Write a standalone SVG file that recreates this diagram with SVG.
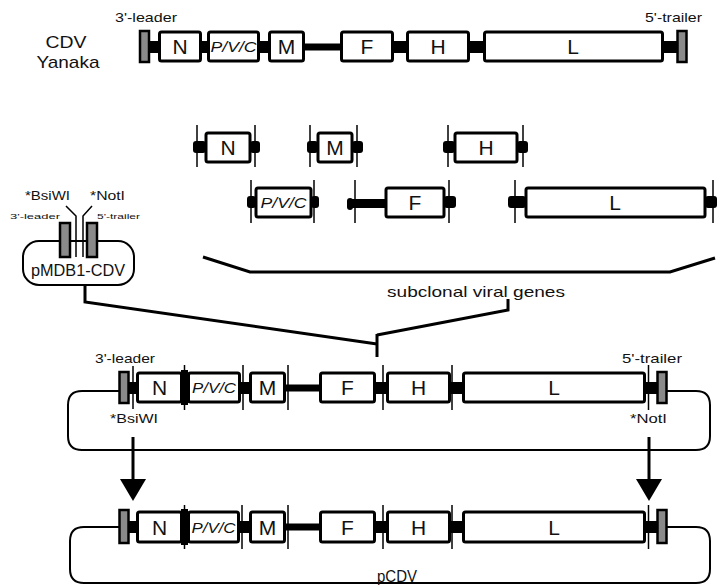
<svg xmlns="http://www.w3.org/2000/svg" width="717" height="587" viewBox="0 0 717 587">
<defs>
<style>
.box{fill:#fff;stroke:#000;stroke-width:3}
.gray{fill:#8a8a8a;stroke:#000;stroke-width:2.5}
.bar{fill:#000}
.thin{stroke:#000;stroke-width:1.5;fill:none}
.line{fill:none;stroke:#000;stroke-width:2}
.con{fill:none;stroke:#000;stroke-width:3}
text{font-family:"Liberation Sans",Arial,sans-serif;fill:#111}
.g{font-size:21px;text-anchor:middle}
.pvc{font-size:14px;font-style:italic;text-anchor:middle}
.s{font-size:13px}
.xs{font-size:8px}
</style>
</defs>
<rect width="717" height="587" fill="#fff"/>

<!-- Top: CDV Yanaka genome -->
<g id="cdv-label">
<text x="66" y="48" font-size="17" text-anchor="middle" textLength="41" lengthAdjust="spacingAndGlyphs">CDV</text>
<text x="68" y="68" font-size="17" text-anchor="middle" textLength="63" lengthAdjust="spacingAndGlyphs">Yanaka</text>
</g>
<g id="top-genome">
<text class="s" x="115" y="22" textLength="62" lengthAdjust="spacingAndGlyphs">3'-leader</text>
<text class="s" x="645" y="22" textLength="57" lengthAdjust="spacingAndGlyphs">5'-trailer</text>
<rect class="gray" x="140" y="31" width="9" height="31"/>
<rect class="bar" x="149" y="41" width="10" height="12"/>
<rect class="box" x="159.5" y="32" width="41" height="29" rx="2"/>
<text class="g" x="180" y="54">N</text>
<rect class="bar" x="200" y="41" width="9" height="12"/>
<rect class="box" x="208.5" y="32" width="50" height="29" rx="2"/>
<text class="pvc" x="233.5" y="52" textLength="46" lengthAdjust="spacingAndGlyphs">P/V/C</text>
<rect class="bar" x="258" y="41" width="12" height="12"/>
<rect class="box" x="269.5" y="32" width="34" height="29" rx="2"/>
<text class="g" x="286.5" y="54">M</text>
<rect class="bar" x="303" y="43.5" width="38" height="7"/>
<rect class="box" x="341.5" y="32" width="51" height="29" rx="2"/>
<text class="g" x="367" y="54">F</text>
<rect class="bar" x="392" y="41" width="16" height="12"/>
<rect class="box" x="407.5" y="32" width="61" height="29" rx="2"/>
<text class="g" x="438" y="54">H</text>
<rect class="bar" x="468" y="41" width="17" height="12"/>
<rect class="box" x="484.5" y="32" width="178" height="29" rx="2"/>
<text class="g" x="573" y="54">L</text>
<rect class="bar" x="662" y="41" width="16" height="12"/>
<rect class="gray" x="677.5" y="31" width="9" height="31"/>
</g>

<!-- Subclones -->
<g id="sub-N">
<rect class="bar" x="193" y="141" width="13" height="12" rx="3"/>
<rect class="bar" x="250" y="141" width="10" height="12" rx="3"/>
<line class="thin" x1="197" y1="125" x2="197" y2="167"/>
<line class="thin" x1="255" y1="125" x2="255" y2="167"/>
<rect class="box" x="206" y="133" width="44" height="29" rx="2"/>
<text class="g" x="228" y="155">N</text>
</g>
<g id="sub-M">
<rect class="bar" x="307" y="141" width="11" height="12" rx="3"/>
<rect class="bar" x="352" y="141" width="11" height="12" rx="3"/>
<line class="thin" x1="310" y1="125" x2="310" y2="167"/>
<line class="thin" x1="357" y1="125" x2="357" y2="167"/>
<rect class="box" x="318" y="133" width="34" height="29" rx="2"/>
<text class="g" x="335" y="155">M</text>
</g>
<g id="sub-H">
<rect class="bar" x="443" y="141" width="12" height="12" rx="3"/>
<rect class="bar" x="517" y="141" width="11" height="12" rx="3"/>
<line class="thin" x1="448" y1="125" x2="448" y2="167"/>
<line class="thin" x1="523" y1="125" x2="523" y2="167"/>
<rect class="box" x="455" y="133" width="62" height="29" rx="2"/>
<text class="g" x="486" y="155">H</text>
</g>
<g id="sub-PVC">
<rect class="bar" x="247" y="196" width="9" height="12" rx="3"/>
<rect class="bar" x="311" y="196" width="8" height="12" rx="3"/>
<line class="thin" x1="251" y1="180" x2="251" y2="223"/>
<line class="thin" x1="314" y1="180" x2="314" y2="223"/>
<rect class="box" x="256" y="188" width="55" height="29" rx="2"/>
<text class="pvc" x="283.5" y="208" textLength="46" lengthAdjust="spacingAndGlyphs">P/V/C</text>
</g>
<g id="sub-F">
<rect class="bar" x="347" y="198" width="6" height="12" rx="3"/>
<rect class="bar" x="350" y="199" width="37" height="9"/>
<rect class="bar" x="444" y="196" width="12" height="12" rx="3"/>
<line class="thin" x1="355" y1="180" x2="355" y2="223"/>
<line class="thin" x1="449" y1="180" x2="449" y2="223"/>
<rect class="box" x="386" y="188" width="58" height="29" rx="2"/>
<text class="g" x="415" y="210">F</text>
</g>
<g id="sub-L">
<rect class="bar" x="508" y="196" width="18" height="12" rx="3"/>
<rect class="bar" x="705" y="196" width="12" height="12" rx="3"/>
<line class="thin" x1="515" y1="180" x2="515" y2="223"/>
<line class="thin" x1="713" y1="180" x2="713" y2="223"/>
<rect class="box" x="526" y="188" width="179" height="29" rx="2"/>
<text class="g" x="615" y="210">L</text>
</g>
<g id="subclonal-label">
<text x="387" y="297" font-size="15" textLength="178" lengthAdjust="spacingAndGlyphs">subclonal viral genes</text>
</g>

<!-- pMDB1-CDV -->
<g id="pMDB1">
<text class="s" x="25" y="200" textLength="45" lengthAdjust="spacingAndGlyphs">*BsiWI</text>
<text class="s" x="90" y="200" textLength="35" lengthAdjust="spacingAndGlyphs">*NotI</text>
<text class="xs" x="10" y="219" textLength="50" lengthAdjust="spacingAndGlyphs">3'-leader</text>
<text class="xs" x="97" y="219" textLength="43" lengthAdjust="spacingAndGlyphs">5'-trailer</text>
<rect class="line" x="23" y="241" width="111" height="44" rx="16"/>
<polyline class="thin" points="66,206 76,216 76,257"/>
<polyline class="thin" points="92,206 83,216 83,257"/>
<rect class="gray" x="60" y="223" width="10" height="34"/>
<rect class="gray" x="87" y="223" width="10" height="34"/>
<text x="78" y="276" font-size="16" text-anchor="middle" textLength="94" lengthAdjust="spacingAndGlyphs">pMDB1-CDV</text>
</g>

<!-- Intermediate construct -->
<g id="intermediate">
<path class="line" d="M119,391 H82 Q68,391 68,405 V436 Q68,450 82,450 H696 Q710,450 710,436 V405 Q710,391 696,391 H667"/>
<text class="s" x="95" y="363" textLength="60" lengthAdjust="spacingAndGlyphs">3'-leader</text>
<text class="s" x="622" y="363" textLength="60" lengthAdjust="spacingAndGlyphs">5'-trailer</text>
<text class="s" x="110" y="423" textLength="48" lengthAdjust="spacingAndGlyphs">*BsiWI</text>
<text class="s" x="630" y="423" textLength="37" lengthAdjust="spacingAndGlyphs">*NotI</text>
<rect class="gray" x="119.5" y="372" width="9" height="31"/>
<rect class="bar" x="128" y="382" width="10" height="12"/>
<line class="thin" x1="133" y1="366" x2="133" y2="409"/>
<rect class="box" x="137.5" y="373" width="44" height="29" rx="2"/>
<text class="g" x="159.5" y="395">N</text>
<rect class="bar" x="181" y="370" width="7" height="35"/>
<line class="thin" x1="184.5" y1="365" x2="184.5" y2="410"/>
<rect class="box" x="188.5" y="373" width="51" height="29" rx="2"/>
<text class="pvc" x="214" y="393" textLength="44" lengthAdjust="spacingAndGlyphs">P/V/C</text>
<rect class="bar" x="239" y="382" width="12" height="12"/>
<line class="thin" x1="243" y1="365" x2="243" y2="410"/>
<rect class="box" x="250.5" y="373" width="34" height="29" rx="2"/>
<text class="g" x="267.5" y="395">M</text>
<rect class="bar" x="284" y="384.5" width="37" height="7"/>
<line class="thin" x1="288" y1="365" x2="288" y2="410"/>
<rect class="box" x="320.5" y="373" width="54" height="29" rx="2"/>
<text class="g" x="347.5" y="395">F</text>
<rect class="bar" x="374" y="382" width="14" height="12"/>
<line class="thin" x1="383" y1="365" x2="383" y2="410"/>
<rect class="box" x="387.5" y="373" width="62" height="29" rx="2"/>
<text class="g" x="418.5" y="395">H</text>
<rect class="bar" x="449" y="382" width="15" height="12"/>
<line class="thin" x1="452" y1="365" x2="452" y2="410"/>
<rect class="box" x="463.5" y="373" width="181" height="29" rx="2"/>
<text class="g" x="554" y="395">L</text>
<rect class="bar" x="644" y="382" width="14" height="12"/>
<line class="thin" x1="648.5" y1="365" x2="648.5" y2="410"/>
<rect class="gray" x="657.5" y="372" width="9" height="31"/>
</g>

<!-- Final pCDV -->
<g id="pCDV">
<path class="line" d="M119,527 H84 Q70,527 70,541 V569 Q70,583 84,583 H696 Q710,583 710,569 V541 Q710,527 696,527 H667"/>
<rect class="gray" x="119.5" y="510" width="9" height="33"/>
<rect class="bar" x="128" y="521" width="10" height="12"/>
<rect class="box" x="137.5" y="512" width="44" height="30" rx="2"/>
<text class="g" x="159.5" y="535">N</text>
<rect class="bar" x="181" y="509" width="7" height="36"/>
<line class="thin" x1="184.5" y1="505" x2="184.5" y2="549"/>
<rect class="box" x="188.5" y="512" width="50" height="30" rx="2"/>
<text class="pvc" x="213.5" y="533" textLength="44" lengthAdjust="spacingAndGlyphs">P/V/C</text>
<rect class="bar" x="238" y="521" width="13" height="12"/>
<line class="thin" x1="242" y1="505" x2="242" y2="549"/>
<rect class="box" x="250.5" y="512" width="34" height="30" rx="2"/>
<text class="g" x="267.5" y="535">M</text>
<rect class="bar" x="284" y="523.5" width="37" height="7"/>
<line class="thin" x1="288" y1="505" x2="288" y2="549"/>
<rect class="box" x="320.5" y="512" width="54" height="30" rx="2"/>
<text class="g" x="347.5" y="535">F</text>
<rect class="bar" x="374" y="521" width="14" height="12"/>
<line class="thin" x1="383" y1="505" x2="383" y2="549"/>
<rect class="box" x="387.5" y="512" width="62" height="30" rx="2"/>
<text class="g" x="418.5" y="535">H</text>
<rect class="bar" x="449" y="521" width="15" height="12"/>
<line class="thin" x1="452" y1="505" x2="452" y2="549"/>
<rect class="box" x="463.5" y="512" width="181" height="30" rx="2"/>
<text class="g" x="554" y="535">L</text>
<rect class="bar" x="644" y="521" width="14" height="12"/>
<line class="thin" x1="648.5" y1="505" x2="648.5" y2="549"/>
<rect class="gray" x="657.5" y="510" width="9" height="33"/>
<text x="377" y="582" font-size="16" textLength="40" lengthAdjust="spacingAndGlyphs">pCDV</text>
</g>

<!-- Connectors -->
<g id="connectors">
<polyline class="con" points="203,257 250,272 670,272 715,258"/>
<polyline class="con" points="85,286 85,302 377,344"/>
<polyline class="con" points="508,299 508,310 377,335"/>
<line class="con" x1="377" y1="334" x2="377" y2="357"/>
<line class="con" x1="133" y1="437" x2="133" y2="484"/>
<polygon points="120,479 146,479 133,501" fill="#000"/>
<line class="con" x1="649" y1="437" x2="649" y2="484"/>
<polygon points="636,479 662,479 649,501" fill="#000"/>
</g>
</svg>
